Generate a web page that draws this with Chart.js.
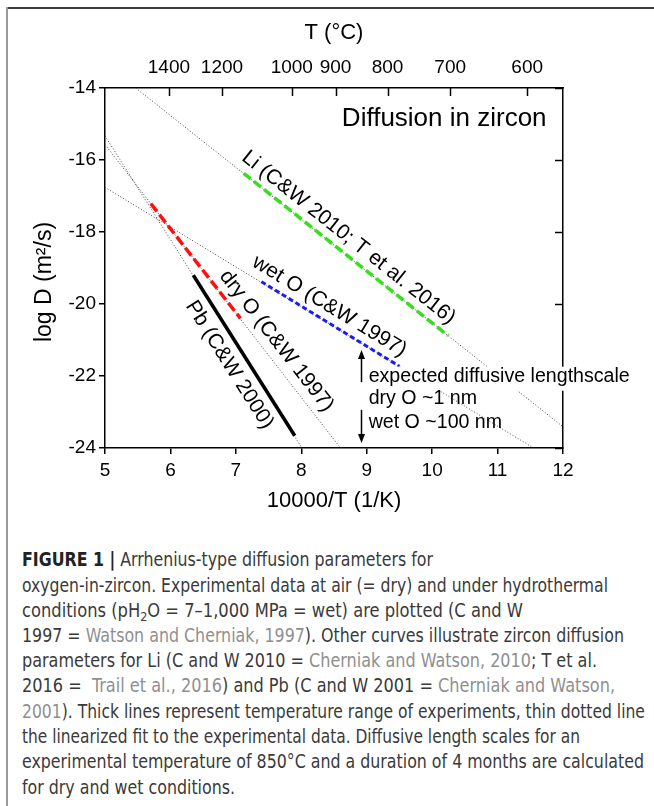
<!DOCTYPE html>
<html>
<head>
<meta charset="utf-8">
<script src="https://cdn.jsdelivr.net/npm/chart.js@4.4.0/dist/chart.umd.min.js"></script>
<style>
  html, body { margin: 0; padding: 0; background: #fff; }
  body { width: 654px; height: 806px; position: relative; overflow: hidden; font-family: 'Liberation Sans', Arial, sans-serif; }
  #frameTop { position: absolute; left: 7px; top: 7px; width: 647px; height: 2px; background: #3c3c3c; }
  #frameLeft { position: absolute; left: 6px; top: 7px; width: 2px; height: 799px; background: #9a9a9a; }
  #chartBox { position: absolute; left: 0; top: 0; width: 654px; height: 530px; }
  .cap { position: absolute; left: 22px; white-space: nowrap; transform-origin: 0 50%;
         font-family: 'Liberation Sans Narrow', 'DejaVu Sans Condensed', 'Liberation Sans', sans-serif;
         font-size: 19px; line-height: 24px; color: #3a3a3a; }
  .cap b { color: #222; }
  .cap .ref { color: #8f8f8f; }
  .cap sub { font-size: 13px; line-height: 0; vertical-align: -4px; }
</style>
</head>
<body>
<div id="frameTop"></div>
<div id="frameLeft"></div>
<div id="chartBox"><canvas id="arrhenius"></canvas></div>

<div class="cap" data-top="559" data-right="433"><b>FIGURE 1 |</b> Arrhenius-type diffusion parameters for</div>
<div class="cap" data-top="585" data-right="608">oxygen-in-zircon. Experimental data at air (= dry) and under hydrothermal</div>
<div class="cap" data-top="610" data-right="523">conditions (pH<sub>2</sub>O = 7–1,000 MPa = wet) are plotted (C and W</div>
<div class="cap" data-top="635" data-right="624">1997 = <span class="ref">Watson and Cherniak, 1997</span>). Other curves illustrate zircon diffusion</div>
<div class="cap" data-top="660" data-right="597">parameters for Li (C and W 2010 = <span class="ref">Cherniak and Watson, 2010</span>; T et al.</div>
<div class="cap" data-top="685" data-right="615">2016 = &nbsp;<span class="ref">Trail et al., 2016</span>) and Pb (C and W 2001 = <span class="ref">Cherniak and Watson,</span></div>
<div class="cap" data-top="711" data-right="645"><span class="ref">2001</span>). Thick lines represent temperature range of experiments, thin dotted line</div>
<div class="cap" data-top="736" data-right="580">the linearized fit to the experimental data. Diffusive length scales for an</div>
<div class="cap" data-top="761" data-right="644">experimental temperature of 850°C and a duration of 4 months are calculated</div>
<div class="cap" data-top="787" data-right="235">for dry and wet conditions.</div>

<script>
// axis ticks
var xTicks = [5, 6, 7, 8, 9, 10, 11, 12];
var yTicks = [-24, -22, -20, -18, -16, -14];
var topTempC = [1400, 1200, 1000, 900, 800, 700, 600];

// thin dotted linearized fits (10000/T, log D)
var liFitX  = [5.47, 12],   liFitY  = [-14, -23.41];
var wetFitX = [5, 11.55],   wetFitY = [-16.76, -24];
var dryFitX = [5, 8.6],     dryFitY = [-15.57, -24];
var pbFitX  = [5, 8.01],    pbFitY  = [-15.33, -24];

// thick lines = experimental temperature range
var liExpX  = [7.12, 10.245], liExpY  = [-16.37, -20.88];
var wetExpX = [7.39, 9.5],    wetExpY = [-19.38, -21.73];
var dryExpX = [5.70, 7.07],   dryExpY = [-17.21, -20.40];
var pbExpX  = [6.35, 7.90],   pbExpY  = [-19.20, -23.66];

function pts(xs, ys) {
  return xs.map(function (x, i) { return { x: x, y: ys[i] }; });
}

var FONT = "'Liberation Sans', Arial, sans-serif";

// labels placed along fit lines: which fit, where along it, perpendicular offset (px, + = above)
var fitLines = [[liFitX, liFitY], [wetFitX, wetFitY], [dryFitX, dryFitY], [pbFitX, pbFitY]];
var lineLabels = [
  { text: 'Li (C&W 2010; T et al. 2016)', fit: 0, at: 8.58, off: 15 },
  { text: 'wet O (C&W 1997)',             fit: 1, at: 8.31, off: 15 },
  { text: 'dry O (C&W 1997)',             fit: 2, at: 7.44, off: 15 },
  { text: 'Pb (C&W 2000)',                fit: 3, at: 7.12, off: -17 }
];

var annotate = {
  id: 'annotate',
  afterDraw: function (chart) {
    var ctx = chart.ctx, a = chart.chartArea;
    var xs = chart.scales.x, ys = chart.scales.y, x2 = chart.scales.x2;
    ctx.save();

    // inward ticks on top and right
    ctx.strokeStyle = '#000';
    ctx.lineWidth = 1.5;
    x2.ticks.forEach(function (t) {
      var px = Math.round(x2.getPixelForValue(t.value)) + 0.5;
      ctx.beginPath(); ctx.moveTo(px, a.top); ctx.lineTo(px, a.top + 8); ctx.stroke();
    });
    ys.ticks.forEach(function (t) {
      var py = Math.round(ys.getPixelForValue(t.value)) + 0.5;
      ctx.beginPath(); ctx.moveTo(a.right, py); ctx.lineTo(a.right - 8, py); ctx.stroke();
    });

    // y axis title, sitting a little below the middle as in the figure
    ctx.fillStyle = '#000';
    ctx.save();
    ctx.translate(45, 282);
    ctx.rotate(-Math.PI / 2);
    ctx.font = '23px ' + FONT;
    ctx.textAlign = 'center';
    ctx.textBaseline = 'middle';
    ctx.fillText('log D (m²/s)', 0, 0);
    ctx.restore();

    // rotated line labels
    ctx.font = '21px ' + FONT;
    ctx.textAlign = 'center';
    ctx.textBaseline = 'middle';
    lineLabels.forEach(function (l) {
      var f = fitLines[l.fit];
      var p1x = xs.getPixelForValue(f[0][0]), p1y = ys.getPixelForValue(f[1][0]);
      var p2x = xs.getPixelForValue(f[0][1]), p2y = ys.getPixelForValue(f[1][1]);
      var ang = Math.atan2(p2y - p1y, p2x - p1x);
      var t = (l.at - f[0][0]) / (f[0][1] - f[0][0]);
      var cx = p1x + t * (p2x - p1x) + Math.sin(ang) * l.off;
      var cy = p1y + t * (p2y - p1y) - Math.cos(ang) * l.off;
      ctx.save();
      ctx.translate(cx, cy);
      ctx.rotate(ang);
      ctx.fillText(l.text, 0, 0);
      ctx.restore();
    });

    // title in plot
    ctx.textAlign = 'left';
    ctx.font = '26px ' + FONT;
    ctx.fillText('Diffusion in zircon', xs.getPixelForValue(8.62), ys.getPixelForValue(-14.86));

    // diffusive lengthscale note
    ctx.font = '19.6px ' + FONT;
    var tx = xs.getPixelForValue(9.03);
    var ty1 = ys.getPixelForValue(-22.02);
    var w1 = ctx.measureText('expected diffusive lengthscale').width;
    ctx.fillStyle = '#fff';
    ctx.fillRect(tx - 3, ty1 - 10, w1 + 6, 24);
    ctx.fillStyle = '#000';
    ctx.fillText('expected diffusive lengthscale', tx, ty1);
    ctx.fillText('dry O ~1 nm', tx, ys.getPixelForValue(-22.64));
    ctx.fillText('wet O ~100 nm', tx, ys.getPixelForValue(-23.30));

    // arrows
    var ax = Math.round(xs.getPixelForValue(8.92)) + 0.5;
    function arrow(yFrom, yTo) {
      var y0 = ys.getPixelForValue(yFrom), y1 = ys.getPixelForValue(yTo);
      var dir = y1 > y0 ? 1 : -1;
      ctx.lineWidth = 1.5;
      ctx.beginPath(); ctx.moveTo(ax, y0); ctx.lineTo(ax, y1 - dir * 6); ctx.stroke();
      ctx.beginPath();
      ctx.moveTo(ax, y1);
      ctx.lineTo(ax - 3.5, y1 - dir * 9);
      ctx.lineTo(ax + 3.5, y1 - dir * 9);
      ctx.closePath(); ctx.fill();
    }
    arrow(-22.17, -21.28);
    arrow(-22.94, -23.86);

    ctx.restore();
  }
};

var tickFont = { family: FONT, size: 19 };
var titleFont = { family: FONT, size: 22 };

var canvas = document.getElementById('arrhenius').getContext('2d');
var diffusionChart = new Chart(canvas, {
  type: 'scatter',
  data: {
    datasets: [
      { label: 'Pb exp',    data: pts(pbExpX, pbExpY),   borderColor: '#000', borderWidth: 3.5 },
      { label: 'dry O exp', data: pts(dryExpX, dryExpY), borderColor: '#ff1010', borderWidth: 3.5, borderDash: [10, 4] },
      { label: 'wet O exp', data: pts(wetExpX, wetExpY), borderColor: '#1a1aff', borderWidth: 3, borderDash: [5, 3] },
      { label: 'Li exp',    data: pts(liExpX, liExpY),   borderColor: '#33e01a', borderWidth: 3.5, borderDash: [9, 4] },
      { label: 'Li fit',    data: pts(liFitX, liFitY),   borderColor: '#444', borderWidth: 1, borderDash: [1, 2] },
      { label: 'wet O fit', data: pts(wetFitX, wetFitY), borderColor: '#444', borderWidth: 1, borderDash: [1, 2] },
      { label: 'dry O fit', data: pts(dryFitX, dryFitY), borderColor: '#444', borderWidth: 1, borderDash: [1, 2] },
      { label: 'Pb fit',    data: pts(pbFitX, pbFitY),   borderColor: '#444', borderWidth: 1, borderDash: [1, 2] }
    ]
  },
  options: {
    responsive: true,
    maintainAspectRatio: false,
    devicePixelRatio: 1,
    animation: false,
    showLine: true,
    elements: { point: { radius: 0, hoverRadius: 0 }, line: { tension: 0 } },
    layout: { padding: 0 },
    plugins: { legend: { display: false }, tooltip: { enabled: false } },
    scales: {
      x: {
        type: 'linear', position: 'bottom', min: 5, max: 12,
        afterBuildTicks: function (s) { s.ticks = xTicks.map(function (v) { return { value: v }; }); },
        afterFit: function (s) { s.height = 82; },
        grid: { display: true, drawOnChartArea: false, drawTicks: true, tickLength: 6, color: '#000', lineWidth: 1.5 },
        border: { display: true, color: '#000', width: 1.5 },
        ticks: { color: '#000', font: tickFont, padding: 5, maxRotation: 0 },
        title: { display: true, text: '10000/T (1/K)', color: '#000', font: titleFont, padding: { top: 0, bottom: 16 } }
      },
      x2: {
        type: 'linear', position: 'top', min: 5, max: 12,
        afterBuildTicks: function (s) {
          s.ticks = topTempC.map(function (t) { return { value: 10000 / (t + 273.15) }; });
        },
        afterFit: function (s) { s.height = 88; },
        grid: { display: false, drawTicks: false },
        border: { display: true, color: '#000', width: 1.5 },
        ticks: {
          color: '#000', font: tickFont, padding: 9, maxRotation: 0, autoSkip: false,
          callback: function (v) { return String(Math.round((10000 / v - 273.15) / 100) * 100); }
        },
        title: { display: true, text: 'T (°C)', color: '#000', font: titleFont, padding: { top: 20, bottom: 0 } }
      },
      y: {
        type: 'linear', position: 'left', min: -24, max: -14,
        afterBuildTicks: function (s) { s.ticks = yTicks.map(function (v) { return { value: v }; }); },
        afterFit: function (s) { s.width = 105; },
        grid: { display: true, drawOnChartArea: false, drawTicks: true, tickLength: 6, color: '#000', lineWidth: 1.5 },
        border: { display: true, color: '#000', width: 1.5 },
        ticks: { color: '#000', font: tickFont, padding: 3 },
        title: { display: false }
      },
      y2: {
        type: 'linear', position: 'right', min: -24, max: -14,
        afterFit: function (s) { s.width = 91; },
        grid: { display: false, drawTicks: false },
        border: { display: true, color: '#000', width: 1.5 },
        ticks: { display: false }
      }
    }
  },
  plugins: [annotate]
});

// caption lines: place and fit each line to the width seen in the figure
document.querySelectorAll('.cap').forEach(function (el) {
  el.style.top = (parseFloat(el.dataset.top) - 12) + 'px';
  var w = el.getBoundingClientRect().width;
  var target = parseFloat(el.dataset.right) - 22;
  el.style.transform = 'scaleX(' + (target / w).toFixed(4) + ')';
});
</script>
</body>
</html>
